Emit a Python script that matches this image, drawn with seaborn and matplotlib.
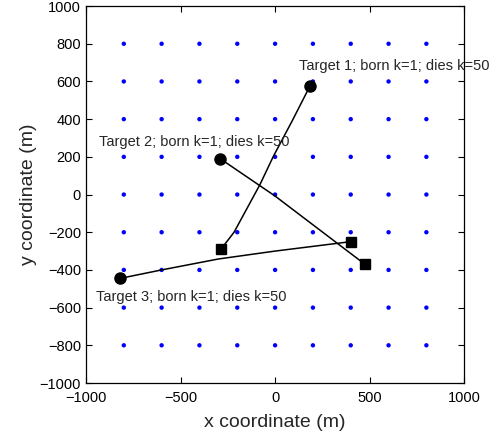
import numpy as np
import pandas as pd
import matplotlib
matplotlib.use("Agg")
import matplotlib.pyplot as plt
import seaborn as sns

# Sensor grid positions
grid_x = [-800, -600, -400, -200, 0, 200, 400, 600, 800]
grid_y = [-800, -600, -400, -200, 0, 200, 400, 600, 800]

# Target tracks (first point = circle, last point = square)
t1_x = [185, 90, -9, -80, -217, -287]
t1_y = [577, 390, 203, 53, -200, -291]
t2_x = [-290, 0, 475]
t2_y = [190, -8, -370]
t3_x = [-820, -600, -300, 0, 400]
t3_y = [-445, -400, -342, -300, -250]

labels = ["Target 1; born k=1; dies k=50",
          "Target 2; born k=1; dies k=50",
          "Target 3; born k=1; dies k=50"]
label_x = [127, -931, -947]
label_y = [680, 280, -545]

x_ticks = [-1000, -500, 0, 500, 1000]
y_ticks = [-1000, -800, -600, -400, -200, 0, 200, 400, 600, 800, 1000]

sns.set_style("white")
plt.rcParams['font.family'] = ['Liberation Sans', 'DejaVu Sans']

fig = plt.figure(figsize=(4.97, 4.34), dpi=100)
ax = fig.add_axes([0.173, 0.1175, 0.761, 0.8685])

gx, gy = np.meshgrid(grid_x, grid_y)
grid_df = pd.DataFrame({"x": gx.ravel(), "y": gy.ravel()})
sns.scatterplot(data=grid_df, x="x", y="y", ax=ax, color="blue", s=10,
                marker="o", edgecolor="none", legend=False, zorder=2)

tracks = [(t1_x, t1_y), (t2_x, t2_y), (t3_x, t3_y)]
for tx, ty in tracks:
    df = pd.DataFrame({"x": tx, "y": ty})
    sns.lineplot(data=df, x="x", y="y", sort=False, estimator=None,
                 color="black", linewidth=1.1, ax=ax, zorder=3)
    ax.plot(tx[0], ty[0], marker="o", color="black", markersize=8, zorder=4)
    ax.plot(tx[-1], ty[-1], marker="s", color="black", markersize=7, zorder=4)

for lx, ly, lab in zip(label_x, label_y, labels):
    ax.text(lx, ly, lab, fontsize=10.5, ha="left", va="center", zorder=5)

ax.set_xlim(-1000, 1000)
ax.set_ylim(-1000, 1000)
ax.set_xticks(x_ticks)
ax.set_yticks(y_ticks)
ax.set_xticklabels(["\u22121000", "\u2212500", "0", "500", "1000"])
ax.set_yticklabels([("\u2212" + str(-v)) if v < 0 else str(v) for v in y_ticks])
ax.tick_params(direction="in", length=4, width=0.8, top=True, right=True,
               bottom=True, left=True, labelsize=10.5, colors="black")
ax.tick_params(axis="x", pad=6)
for sp in ax.spines.values():
    sp.set_color("black")
    sp.set_linewidth(0.9)
    sp.set_visible(True)
ax.set_xlabel("x coordinate (m)", fontsize=14, labelpad=6)
ax.set_ylabel("y coordinate (m)", fontsize=14, labelpad=2)

fig.savefig("out.png", dpi=100)
